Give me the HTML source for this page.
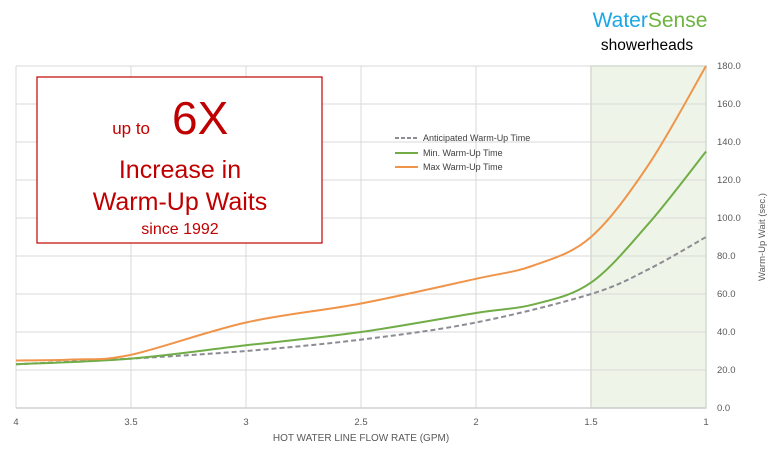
<!DOCTYPE html>
<html><head><meta charset="utf-8"><style>
body{margin:0;background:#fff;width:775px;height:464px;overflow:hidden;font-family:"Liberation Sans",sans-serif}
</style></head><body>
<svg width="775" height="464" xmlns="http://www.w3.org/2000/svg" font-family="Liberation Sans, sans-serif">
<rect x="591" y="66" width="115" height="342" fill="#eef5e8" stroke="#c9dfbd" stroke-width="1.5"/>
<g stroke="#d9d9d9" stroke-width="1" id="grid"></g>
<line x1="16" y1="408" x2="706" y2="408" stroke="#d0d0d0" stroke-width="1.5"/>
<g font-size="9.5" fill="#595959" id="labels"></g>
<text x="361" y="441" font-size="10" fill="#595959" text-anchor="middle">HOT WATER  LINE FLOW RATE (GPM)</text>
<text transform="translate(765,237) rotate(-90)" font-size="9.5" fill="#595959" text-anchor="middle">Warm-Up Wait (sec.)</text>
<text x="650" y="27" font-size="21" text-anchor="middle"><tspan fill="#1aa7e6">Water</tspan><tspan fill="#6db33f">Sense</tspan></text>
<text x="647" y="50" font-size="15.5" fill="#000" text-anchor="middle">showerheads</text>
<rect x="37" y="77" width="285" height="166" fill="#fff" stroke="#c00000" stroke-width="1.2"/>
<text x="150" y="134" font-size="17" fill="#c00000" text-anchor="end">up to</text>
<text x="172" y="134" font-size="46" fill="#c00000">6X</text>
<text x="180" y="178" font-size="25" fill="#c00000" text-anchor="middle">Increase in</text>
<text x="180" y="210" font-size="25" fill="#c00000" text-anchor="middle">Warm-Up Waits</text>
<text x="180" y="234" font-size="16" fill="#c00000" text-anchor="middle">since 1992</text>
<path id="pa" fill="none" stroke="#8c8c94" stroke-width="2" stroke-dasharray="5,3"/>
<path id="pm" fill="none" stroke="#70ad47" stroke-width="2"/>
<path id="px" fill="none" stroke="#f0944a" stroke-width="2"/>
<line x1="395" y1="138" x2="418" y2="138" stroke="#8c8c94" stroke-width="2" stroke-dasharray="4,2"/>
<line x1="395" y1="153" x2="418" y2="153" stroke="#70ad47" stroke-width="2"/>
<line x1="395" y1="167" x2="418" y2="167" stroke="#f0944a" stroke-width="2"/>
<g font-size="9" fill="#404040">
<text x="423" y="141">Anticipated Warm-Up Time</text>
<text x="423" y="156">Min. Warm-Up Time</text>
<text x="423" y="170">Max Warm-Up Time</text>
</g>
</svg>
<script>
const X=g=>16+(4-g)*230, Y=v=>408-v*1.9;
let grid=document.getElementById('grid'),lab=document.getElementById('labels'),s='',l='';
for(let v=20;v<=180;v+=20)s+=`<line x1="16" y1="${Y(v)}" x2="706" y2="${Y(v)}"/>`;
for(let v=0;v<=180;v+=20)l+=`<text x="717" y="${Y(v)+3}">${v.toFixed(1)}</text>`;
[4,3.5,3,2.5,2,1.5,1].forEach(g=>{s+=`<line x1="${X(g)}" y1="66" x2="${X(g)}" y2="408"/>`;l+=`<text x="${X(g)}" y="425" text-anchor="middle">${g}</text>`});
grid.innerHTML=s;lab.innerHTML=l;
function cr(pts){pts=pts.map(p=>[X(p[0]),Y(p[1])]);let d=`M${pts[0][0]},${pts[0][1]}`;
for(let i=0;i<pts.length-1;i++){const p0=pts[i-1]||pts[i],p1=pts[i],p2=pts[i+1],p3=pts[i+2]||p2;
d+=` C${p1[0]+(p2[0]-p0[0])/6},${p1[1]+(p2[1]-p0[1])/6} ${p2[0]-(p3[0]-p1[0])/6},${p2[1]-(p3[1]-p1[1])/6} ${p2[0]},${p2[1]}`}return d}
document.getElementById('pa').setAttribute('d',cr([[4,23],[3.5,26],[3,30],[2.5,36],[2,45],[1.5,60],[1.25,73],[1,90]]));
document.getElementById('pm').setAttribute('d',cr([[4,23],[3.5,26],[3,33],[2.5,40],[2,50],[1.75,54.5],[1.5,66],[1.25,97],[1,135]]));
document.getElementById('px').setAttribute('d',cr([[4,25],[3.75,25.5],[3.5,28],[3,45],[2.5,55],[2,68],[1.75,75],[1.5,90],[1.25,128],[1,180]]));
</script>
</body></html>
